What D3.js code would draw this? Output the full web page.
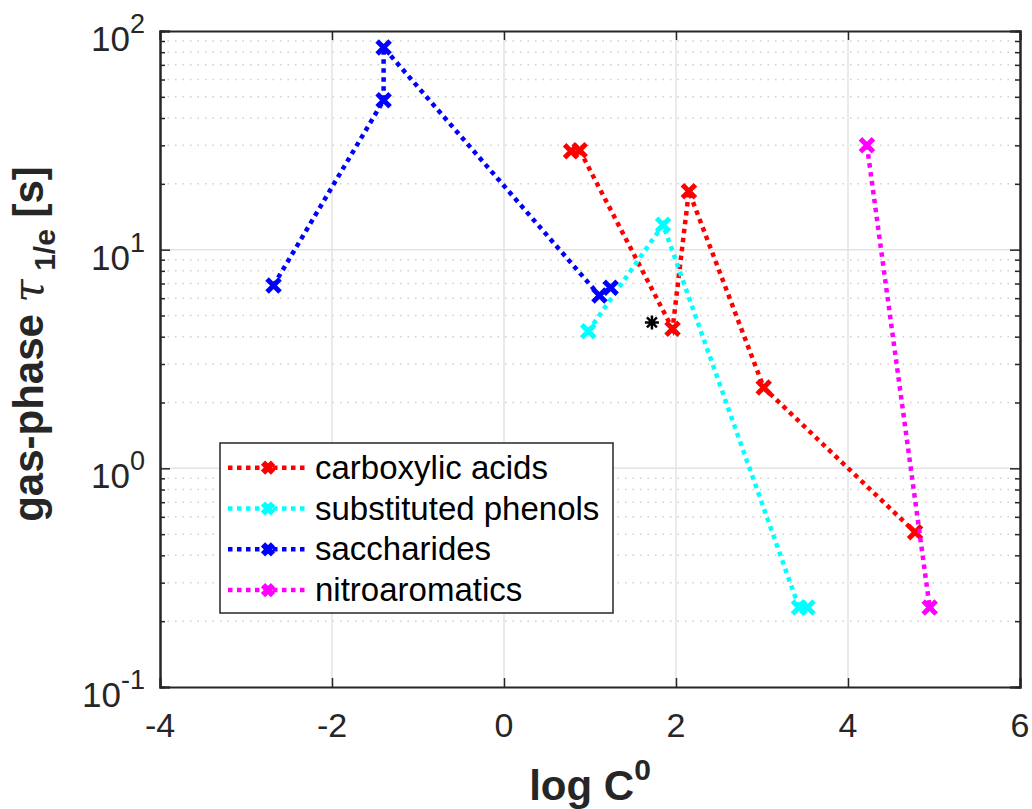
<!DOCTYPE html>
<html>
<head>
<meta charset="utf-8">
<script src="https://cdn.jsdelivr.net/npm/d3@7"></script>
<style>
  body { margin: 0; background: #fff; }
  text { font-family: Arial, "Liberation Sans", sans-serif; fill: #262626; }
</style>
</head>
<body>
<div id="chart"></div>
<script>
// data
const seriesNames = ["carboxylic acids", "substituted phenols", "saccharides", "nitroaromatics"];
const seriesColors = ["#ff0000", "#00ffff", "#0000ff", "#ff00ff"];
const carboxylicX = [0.78, 0.88, 1.96, 2.15, 3.02, 4.78];
const carboxylicY = [28.2, 28.5, 4.35, 18.5, 2.34, 0.51];
const phenolsX = [0.98, 1.85, 3.43, 3.53];
const phenolsY = [4.24, 13.0, 0.231, 0.231];
const saccharidesX = [-2.68, -1.4, -1.4, 1.11, 1.24];
const saccharidesY = [6.86, 48.2, 84, 6.17, 6.7];
const nitroX = [4.22, 4.95];
const nitroY = [30, 0.231];
const starX = [1.72];
const starY = [4.65];
const xTicks = [-4, -2, 0, 2, 4, 6];
const yTicks = [0.1, 1, 10, 100];
const yTickExp = ["-1", "0", "1", "2"];

const seriesX = [carboxylicX, phenolsX, saccharidesX, nitroX];
const seriesY = [carboxylicY, phenolsY, saccharidesY, nitroY];

const svgWidth = 1032, svgHeight = 809;
const margin = { top: 31, right: 12, bottom: 122, left: 160 };
const plotL = margin.left, plotR = svgWidth - margin.right;
const plotT = margin.top, plotB = svgHeight - margin.bottom;

const svg = d3.select("#chart").append("svg")
  .attr("width", svgWidth).attr("height", svgHeight);

const x = d3.scaleLinear().domain([-4, 6]).range([plotL, plotR]);
const y = d3.scaleLog().domain([0.1, 100]).range([plotB, plotT]);

// minor y values (2..9 in each decade)
const minorY = [];
[0.1, 1, 10].forEach((d) => { for (let k = 2; k <= 9; k++) minorY.push(d * k); });

// grid
const grid = svg.append("g");
grid.selectAll(".minor").data(minorY).enter().append("line")
  .attr("x1", plotL).attr("x2", plotR)
  .attr("y1", (d) => y(d)).attr("y2", (d) => y(d))
  .attr("stroke", "#d0d0d0").attr("stroke-width", 1.5)
  .attr("stroke-dasharray", "1.5,6");
grid.selectAll(".vx").data(xTicks.slice(1, -1)).enter().append("line")
  .attr("x1", (d) => x(d)).attr("x2", (d) => x(d))
  .attr("y1", plotT).attr("y2", plotB)
  .attr("stroke", "#e3e3e3").attr("stroke-width", 1.5);
grid.selectAll(".hy").data(yTicks.slice(1, -1)).enter().append("line")
  .attr("x1", plotL).attr("x2", plotR)
  .attr("y1", (d) => y(d)).attr("y2", (d) => y(d))
  .attr("stroke", "#e3e3e3").attr("stroke-width", 1.5);

// axes (inward ticks, box)
const axisColor = "#262626";
svg.append("g").attr("transform", `translate(0,${plotB})`)
  .call(d3.axisBottom(x).tickValues(xTicks).tickSize(-9).tickFormat(""));
svg.append("g").attr("transform", `translate(0,${plotT})`)
  .call(d3.axisTop(x).tickValues(xTicks).tickSize(-9).tickFormat(""));
svg.append("g").attr("transform", `translate(${plotL},0)`)
  .call(d3.axisLeft(y).tickValues(yTicks).tickSize(-10).tickFormat(""));
svg.append("g").attr("transform", `translate(${plotR},0)`)
  .call(d3.axisRight(y).tickValues(yTicks).tickSize(-10).tickFormat(""));
svg.append("g").attr("transform", `translate(${plotL},0)`)
  .call(d3.axisLeft(y).tickValues(minorY).tickSize(-5).tickFormat(""));
svg.append("g").attr("transform", `translate(${plotR},0)`)
  .call(d3.axisRight(y).tickValues(minorY).tickSize(-5).tickFormat(""));
svg.selectAll(".domain").attr("stroke", axisColor).attr("stroke-width", 2);
svg.selectAll(".tick line").attr("stroke", axisColor).attr("stroke-width", 1.5);

// tick labels
svg.append("g").selectAll("text").data(xTicks).enter().append("text")
  .attr("x", (d) => x(d)).attr("y", plotB + 50)
  .attr("text-anchor", "middle").style("font-size", "34px")
  .text((d) => (d < 0 ? "-" + Math.abs(d) : d));

const yl = svg.append("g").selectAll("text").data(yTicks).enter().append("text")
  .attr("x", plotL - 15).attr("y", (d) => y(d) + 20)
  .attr("text-anchor", "end").style("font-size", "35px");
yl.append("tspan").text("10");
yl.append("tspan").attr("dy", -18).style("font-size", "27px")
  .text((d, i) => yTickExp[i]);

// axis titles
const xt = svg.append("text")
  .attr("x", (plotL + plotR) / 2).attr("y", plotB + 113)
  .attr("text-anchor", "middle").style("font-size", "42px").style("font-weight", "bold");
xt.append("tspan").text("log C");
xt.append("tspan").attr("dy", -20).style("font-size", "30px").text("0");

const yt = svg.append("text")
  .attr("transform", `translate(43,${(plotT + plotB) / 2 - 15}) rotate(-90)`)
  .attr("text-anchor", "middle").style("font-size", "42px").style("font-weight", "bold");
yt.append("tspan").text("gas-phase ");
yt.append("tspan").style("font-weight", "normal").style("font-style", "italic")
  .style("font-family", "'DejaVu Serif', serif").text("\u03c4");
yt.append("tspan").attr("dy", 12).style("font-size", "30px").text(" 1/e");
yt.append("tspan").attr("dy", -12).text(" [s]");

// series
const line = d3.line().x((d) => x(d[0])).y((d) => y(d[1]));
const xMark = (s) => `M${-s},${-s}L${s},${s}M${-s},${s}L${s},${-s}`;

seriesNames.forEach((name, i) => {
  const pts = seriesX[i].map((v, j) => [v, seriesY[i][j]]);
  svg.append("path").datum(pts)
    .attr("fill", "none").attr("stroke", seriesColors[i])
    .attr("stroke-width", 4.5).attr("stroke-dasharray", "4.5,4.5")
    .attr("d", line);
  svg.selectAll(null).data(pts).enter().append("path")
    .attr("transform", (d) => `translate(${x(d[0])},${y(d[1])})`)
    .attr("d", xMark(6.5))
    .attr("stroke", seriesColors[i]).attr("stroke-width", 5)
    .attr("fill", "none");
});

// asterisk marker
const starPts = starX.map((v, j) => [v, starY[j]]);
svg.selectAll(null).data(starPts).enter().append("path")
  .attr("transform", (d) => `translate(${x(d[0])},${y(d[1])})`)
  .attr("d", "M-7,0L7,0M0,-7L0,7M-5,-5L5,5M-5,5L5,-5")
  .attr("stroke", "#000").attr("stroke-width", 2.5).attr("fill", "none");

// legend
const legend = svg.append("g").attr("transform", "translate(220,443)");
legend.append("rect").attr("width", 393).attr("height", 170)
  .attr("fill", "#fff").attr("stroke", axisColor).attr("stroke-width", 1.5);
seriesNames.forEach((name, i) => {
  const row = legend.append("g").attr("transform", `translate(0,${24.7 + i * 40.8})`);
  row.append("line").attr("x1", 8).attr("x2", 85)
    .attr("stroke", seriesColors[i]).attr("stroke-width", 4.5)
    .attr("stroke-dasharray", "4.5,4.5");
  row.append("path").attr("transform", "translate(48,0)")
    .attr("d", xMark(5)).attr("stroke", seriesColors[i])
    .attr("stroke-width", 6).attr("fill", "none");
  row.append("text").attr("x", 95).attr("y", 11)
    .style("font-size", "33px").style("fill", "#000").text(name);
});
</script>
</body>
</html>
